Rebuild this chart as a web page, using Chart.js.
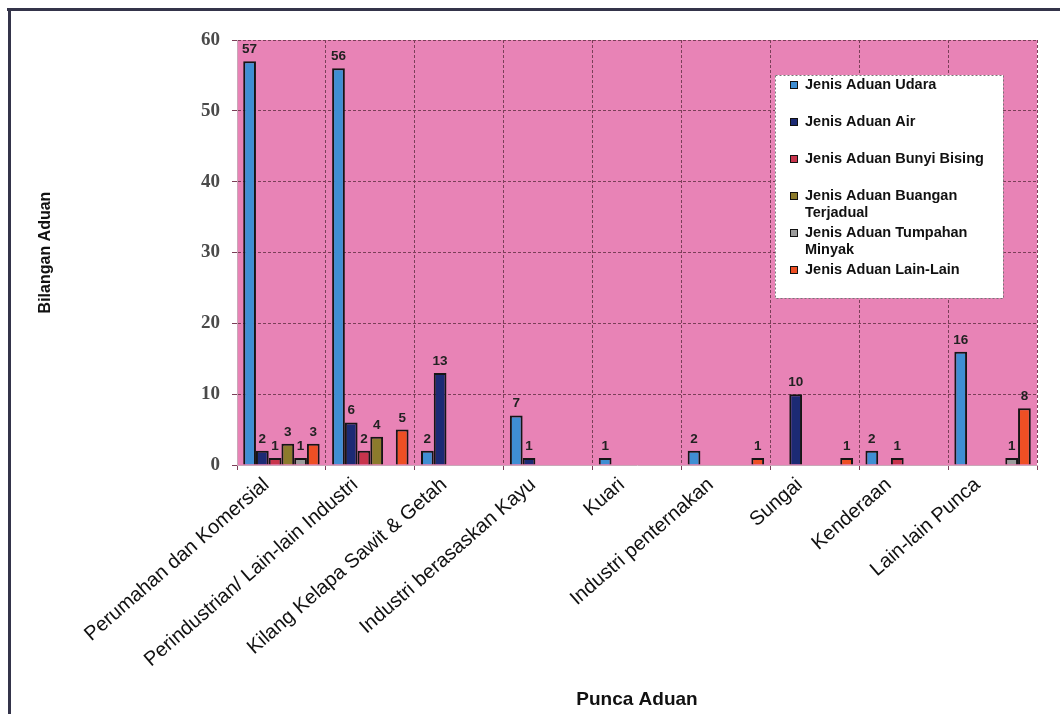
<!DOCTYPE html>
<html>
<head>
<meta charset="utf-8">
<script src="https://cdn.jsdelivr.net/npm/chart.js@4/dist/chart.umd.min.js"></script>
<style>
html,body{margin:0;padding:0;background:#fff;}
#wrap{width:1060px;height:714px;position:relative;}
</style>
</head>
<body>
<div id="wrap"><canvas id="c" width="1060" height="714"></canvas></div>
<script>
// ---- data ----
const categories = [
  'Perumahan dan Komersial',
  'Perindustrian/ Lain-lain Industri',
  'Kilang Kelapa Sawit & Getah',
  'Industri berasaskan Kayu',
  'Kuari',
  'Industri penternakan',
  'Sungai',
  'Kenderaan',
  'Lain-lain Punca'
];
const seriesNames = [
  'Jenis Aduan Udara',
  'Jenis Aduan Air',
  'Jenis Aduan Bunyi Bising',
  'Jenis Aduan Buangan Terjadual',
  'Jenis Aduan Tumpahan Minyak',
  'Jenis Aduan Lain-Lain'
];
const udara            = [57, 56, 2, 7, 1, 2, 0, 2, 16];
const air              = [2, 6, 13, 1, 0, 0, 10, 0, 0];
const bunyiBising      = [1, 2, 0, 0, 0, 0, 0, 1, 0];
const buanganTerjadual = [3, 4, 0, 0, 0, 0, 0, 0, 0];
const tumpahanMinyak   = [1, 0, 0, 0, 0, 0, 0, 0, 1];
const lainLain         = [3, 5, 0, 0, 0, 1, 1, 0, 8];
const yTicks = [0, 10, 20, 30, 40, 50, 60];
const xTitle = 'Punca Aduan';
const yTitle = 'Bilangan Aduan';

// ---- styles ----
const seriesColors = ['#3F8ED3', '#1C2A74', '#C8344C', '#8C7B2C', '#9C9C9C', '#EE4F24'];
const seriesValues = [udara, air, bunyiBising, buanganTerjadual, tumpahanMinyak, lainLain];
const SANS = '"Liberation Sans", Arial, sans-serif';
const SERIF = '"Liberation Serif", "Times New Roman", serif';
const PLOT = {left: 237, right: 1037, top: 40, bottom: 465};

const bgPlugin = {
  id: 'bg',
  beforeDraw(chart) {
    const ctx = chart.ctx, a = chart.chartArea;
    ctx.save();
    ctx.fillStyle = '#fff';
    ctx.fillRect(0, 0, chart.width, chart.height);
    // outer frame
    ctx.fillStyle = '#34344a';
    ctx.fillRect(7, 8, chart.width - 7, 3);
    ctx.fillRect(8, 8, 3, chart.height - 8);
    // plot area
    ctx.fillStyle = '#E883B6';
    ctx.fillRect(a.left, a.top, a.right - a.left, a.bottom - a.top);
    ctx.restore();
  }
};

const valueLabels = {
  id: 'valueLabels',
  afterDatasetsDraw(chart) {
    const ctx = chart.ctx;
    ctx.save();
    ctx.font = 'bold 13.5px ' + SANS;
    ctx.fillStyle = '#222';
    ctx.textAlign = 'center';
    ctx.textBaseline = 'bottom';
    chart.data.datasets.forEach((ds, i) => {
      const meta = chart.getDatasetMeta(i);
      meta.data.forEach((bar, j) => {
        const v = ds.data[j];
        if (v > 0) ctx.fillText(String(v), bar.x, bar.y - 5);
      });
    });
    ctx.restore();
  }
};

const boxLegend = {
  id: 'boxLegend',
  afterDraw(chart) {
    const ctx = chart.ctx;
    const bx = 775, by = 75, bw = 228, bh = 223;
    ctx.save();
    ctx.fillStyle = '#fff';
    ctx.fillRect(bx, by, bw, bh);
    ctx.strokeStyle = '#777';
    ctx.lineWidth = 1;
    ctx.setLineDash([2, 2]);
    ctx.strokeRect(bx + 0.5, by + 0.5, bw, bh);
    ctx.setLineDash([]);
    ctx.font = 'bold 14.5px ' + SANS;
    ctx.textBaseline = 'middle';
    ctx.textAlign = 'left';
    const maxW = 192;
    chart.data.datasets.forEach((ds, i) => {
      const y0 = 85 + i * 37;
      const words = ds.label.split(' ');
      const lines = [];
      let cur = '';
      words.forEach(w => {
        const t = cur ? cur + ' ' + w : w;
        if (ctx.measureText(t).width > maxW && cur) { lines.push(cur); cur = w; }
        else cur = t;
      });
      if (cur) lines.push(cur);
      ctx.fillStyle = ds.backgroundColor;
      ctx.fillRect(790, y0 - 4, 8, 8);
      ctx.strokeStyle = '#111';
      ctx.lineWidth = 1;
      ctx.strokeRect(790.5, y0 - 3.5, 7, 7);
      ctx.fillStyle = '#111';
      lines.forEach((ln, k) => ctx.fillText(ln, 805, y0 + k * 17));
    });
    ctx.restore();
  }
};

new Chart(document.getElementById('c'), {
  type: 'bar',
  data: {
    labels: categories,
    datasets: seriesNames.map((name, i) => ({
      label: name,
      data: seriesValues[i],
      backgroundColor: seriesColors[i],
      borderColor: '#151515',
      borderWidth: 2,
      categoryPercentage: 0.86,
      barPercentage: 1.0
    }))
  },
  options: {
    responsive: false,
    animation: false,
    devicePixelRatio: 1,
    layout: {padding: {left: 0, top: PLOT.top, right: 1060 - PLOT.right, bottom: 0}},
    plugins: {legend: {display: false}, tooltip: {enabled: false}},
    scales: {
      x: {
        offset: true,
        afterFit(s) { s.height = 714 - PLOT.bottom; },
        grid: {color: '#7b3f58', lineWidth: 1, tickLength: 5},
        border: {color: '#c9a8b8', dash: [3, 2]},
        ticks: {
          minRotation: 41, maxRotation: 41, autoSkip: false,
          labelOffset: -15,
          padding: 3,
          color: '#111',
          font: {family: SANS, size: 20}
        },
        title: {
          display: true, text: xTitle, color: '#111',
          font: {family: SANS, size: 19, weight: 'bold'},
          padding: {top: 0, bottom: 3}
        }
      },
      y: {
        min: 0, max: 60,
        afterFit(s) { s.width = PLOT.left; },
        afterBuildTicks(s) { s.ticks = yTicks.map(v => ({value: v})); },
        grid: {color: '#7b3f58', lineWidth: 1, tickLength: 5},
        border: {color: '#c9a8b8', dash: [3, 2]},
        ticks: {
          padding: 12,
          color: '#4a4a4a',
          font: {family: SERIF, size: 19, weight: 'bold'}
        },
        title: {
          display: true, text: yTitle, color: '#111',
          font: {family: SANS, size: 16, weight: 'bold'},
          padding: {top: 36, bottom: 0}
        }
      }
    }
  },
  plugins: [bgPlugin, valueLabels, boxLegend]
});
</script>
</body>
</html>
